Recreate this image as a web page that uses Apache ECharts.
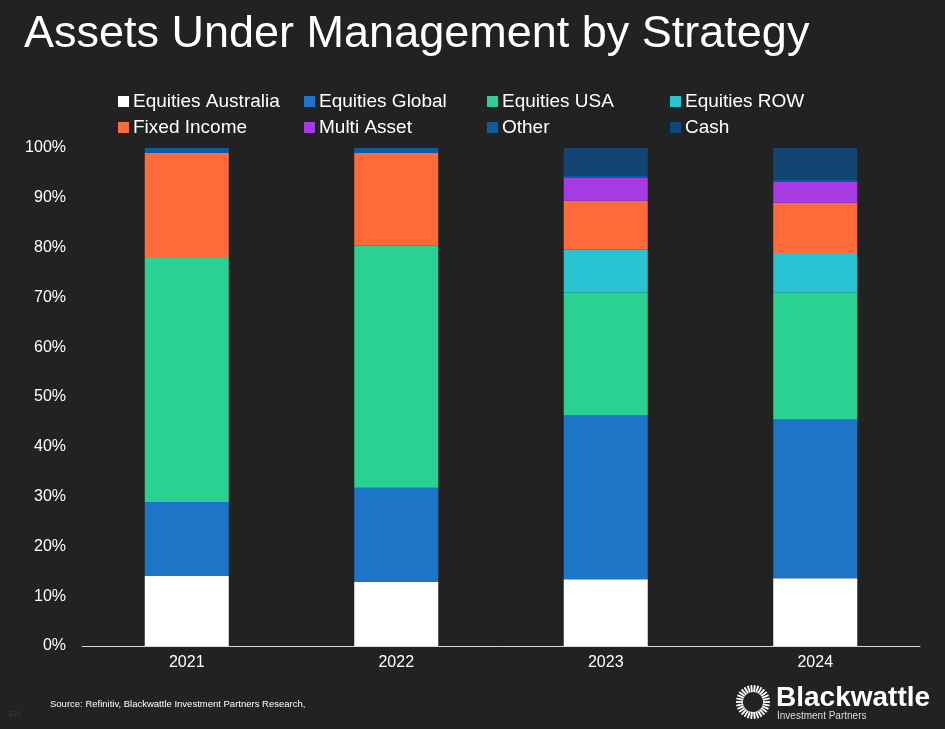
<!DOCTYPE html>
<html><head><meta charset="utf-8">
<script src="https://cdn.jsdelivr.net/npm/echarts@6/dist/echarts.min.js"></script>
<style>html,body{margin:0;padding:0;background:#222222;}#c{width:945px;height:729px;}</style>
</head><body><div id="c"></div>
<script>
var years = ['2021','2022','2023','2024'];
var seriesNames = ['Equities Australia','Equities Global','Equities USA','Equities ROW','Fixed Income','Multi Asset','Other','Cash'];
var eqAustralia = [14.1, 12.9, 13.4, 13.6];
var eqGlobal    = [14.8, 18.9, 32.9, 31.9];
var eqUSA       = [49.0, 48.6, 24.7, 25.5];
var eqROW       = [0, 0, 8.6, 7.9];
var fixedIncome = [21.1, 18.6, 9.8, 10.1];
var multiAsset  = [0, 0, 4.6, 4.2];
var other       = [1.0, 1.0, 0.4, 0.4];
var cash        = [0, 0, 5.6, 6.4];
var yTicks = [0,10,20,30,40,50,60,70,80,90,100];
var colors = ['#ffffff','#1c75c6','#2bd192','#29c3d1','#ff6a3a','#a63be3','#0b5c9e','#124571'];
var values = [eqAustralia, eqGlobal, eqUSA, eqROW, fixedIncome, multiAsset, other, cash];

var font = '"Liberation Sans", Arial, sans-serif';
var chart = echarts.init(document.getElementById('c'));

var legendPos = [[118,92],[304,92],[487,92],[670,92],[118,118],[304,118],[487,118],[670,118]];
var legends = seriesNames.map(function(n,i){
  return {data:[n], left:legendPos[i][0], top:legendPos[i][1], itemWidth:11, itemHeight:11, itemGap:0,
    icon:'rect', padding:0, textStyle:{color:'#ffffff', fontSize:19, fontFamily:font, padding:[0,0,0,-1]}, selectedMode:false};
});

var series = seriesNames.map(function(n,i){
  return {name:n, type:'bar', stack:'s', barWidth:84, data:values[i], itemStyle:{color:colors[i]}, emphasis:{disabled:true}};
});

// logo sunburst
var logo = [];
var cx = 753, cy = 702;
for (var k=0;k<30;k++){
  var a = k*Math.PI*2/30;
  logo.push({type:'line', shape:{x1:cx+Math.cos(a)*10, y1:cy+Math.sin(a)*10, x2:cx+Math.cos(a)*17, y2:cy+Math.sin(a)*17},
    style:{stroke:'#ffffff', lineWidth:1.8}});
}
logo.push({type:'text', left:776, top:684, style:{text:'Blackwattle', fill:'#ffffff', font:'bold 28px '+font}});
logo.push({type:'text', left:777, top:711, style:{text:'Investment Partners', fill:'#dddddd', font:'10px '+font}});

chart.setOption({
  backgroundColor:'#222222',
  animation:false,
  title:{text:'Assets Under Management by Strategy', left:19, top:7, padding:[5,5,5,5],
    textStyle:{color:'#ffffff', fontSize:45, fontWeight:'normal', fontFamily:font}},
  legend: legends,
  grid:{left:82, right:25, top:148, bottom:83, containLabel:false},
  xAxis:{type:'category', data:years, axisLine:{lineStyle:{color:'#d9d9d9', width:1}}, axisTick:{show:false},
    axisLabel:{color:'#ffffff', fontSize:16, fontFamily:font, margin:9}},
  yAxis:{type:'value', min:0, max:100, interval:10, splitLine:{show:false}, axisLine:{show:false}, axisTick:{show:false},
    axisLabel:{color:'#ffffff', fontSize:16, fontFamily:font, margin:16, formatter:function(v){return yTicks.indexOf(v)>=0? v+'%':'';}}},
  series: series,
  graphic: [
    {type:'text', left:50, top:699, style:{text:'Source: Refinitiv, Blackwattle Investment Partners Research,', fill:'#ffffff', font:'9.5px '+font}},
    {type:'text', left:8, top:710, style:{text:'120', fill:'#3a3a3a', font:'8px '+font}}
  ].concat(logo)
});
</script></body></html>
